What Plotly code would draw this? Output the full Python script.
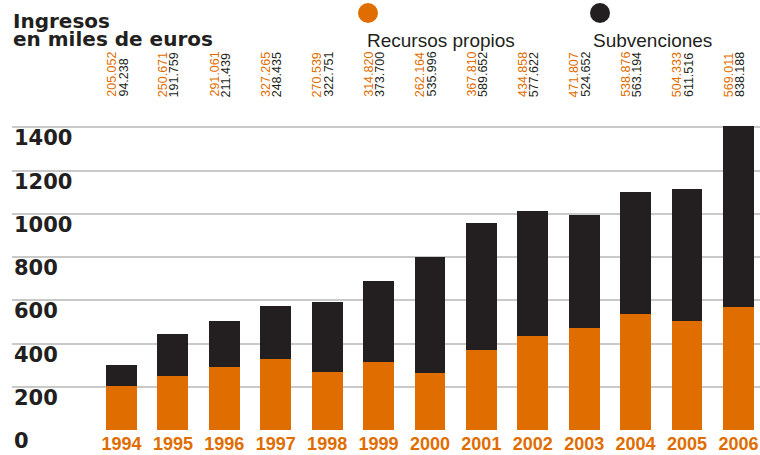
import plotly.graph_objects as go

# ---- data ----
years = ["1994", "1995", "1996", "1997", "1998", "1999", "2000",
         "2001", "2002", "2003", "2004", "2005", "2006"]
recursos_propios = [205.052, 250.671, 291.061, 327.265, 270.539, 314.820, 262.164,
                    367.810, 434.858, 471.807, 538.876, 504.333, 569.011]
subvenciones = [94.238, 191.759, 211.439, 248.435, 322.751, 373.700, 535.996,
                589.652, 577.622, 524.652, 563.194, 611.516, 838.188]
y_ticks = [0, 200, 400, 600, 800, 1000, 1200, 1400]

ORANGE = "#df6d00"
DARK = "#231f20"
GRID = "#c9c9c9"

W, H = 760, 455
ML, MR, MT, MB = 12, 0, 123, 25
PW, PH = W - ML - MR, H - MT - MB


def px(xp):
    return (xp - ML) / PW


def py(yp):
    return (H - MB - yp) / PH


idx = list(range(len(years)))

fig = go.Figure()
fig.add_trace(go.Bar(x=idx, y=recursos_propios, name="Recursos propios",
                     marker=dict(color=ORANGE, line=dict(width=0)), width=0.6,
                     hoverinfo="skip"))
fig.add_trace(go.Bar(x=idx, y=subvenciones, name="Subvenciones",
                     marker=dict(color=DARK, line=dict(width=0)), width=0.6,
                     hoverinfo="skip"))

annotations = []
# y tick labels placed under the gridlines
for t in y_ticks:
    annotations.append(dict(x=0, xref="paper", y=t, yref="y", text=str(t),
                            showarrow=False, xanchor="left", yanchor="middle",
                            yshift=-11,
                            font=dict(family="DejaVu Sans", size=21, color=DARK,
                                      weight="bold")))

# rotated value labels
label_font = "Liberation Sans, Arial, sans-serif"
for i in idx:
    annotations.append(dict(x=i - 0.18, xref="x", y=py(99), yref="paper",
                            text=f"{recursos_propios[i]:.3f}", textangle=-90,
                            showarrow=False, xanchor="center", yanchor="bottom",
                            font=dict(family=label_font, size=12.5, color=ORANGE)))
    annotations.append(dict(x=i + 0.04, xref="x", y=py(99), yref="paper",
                            text=f"{subvenciones[i]:.3f}", textangle=-90,
                            showarrow=False, xanchor="center", yanchor="bottom",
                            font=dict(family=label_font, size=12.5, color=DARK)))

# header
annotations.append(dict(x=px(11), xref="paper", y=py(21), yref="paper",
                        text="Ingresos", showarrow=False, xanchor="left",
                        yanchor="middle",
                        font=dict(family="DejaVu Sans", size=20, color=DARK,
                                  weight="bold")))
annotations.append(dict(x=px(11), xref="paper", y=py(39), yref="paper",
                        text="en miles de euros", showarrow=False, xanchor="left",
                        yanchor="middle",
                        font=dict(family="DejaVu Sans", size=20, color=DARK,
                                  weight="bold")))

# legend texts
annotations.append(dict(x=px(365), xref="paper", y=py(40), yref="paper",
                        text="Recursos propios", showarrow=False, xanchor="left",
                        yanchor="middle",
                        font=dict(family=label_font, size=19, color=DARK)))
annotations.append(dict(x=px(591), xref="paper", y=py(40), yref="paper",
                        text="Subvenciones", showarrow=False, xanchor="left",
                        yanchor="middle",
                        font=dict(family=label_font, size=19, color=DARK)))

shapes = [
    dict(type="circle", xref="paper", yref="paper",
         x0=px(358), x1=px(378), y0=py(23), y1=py(3),
         fillcolor=ORANGE, line=dict(width=0)),
    dict(type="circle", xref="paper", yref="paper",
         x0=px(590), x1=px(610), y0=py(23), y1=py(3),
         fillcolor=DARK, line=dict(width=0)),
]

fig.update_layout(
    width=W, height=H,
    margin=dict(l=ML, r=MR, t=MT, b=MB, pad=0, autoexpand=False),
    paper_bgcolor="white", plot_bgcolor="white",
    barmode="stack", bargap=0,
    showlegend=False,
    annotations=annotations,
    shapes=shapes,
    xaxis=dict(range=[-2.13, 12.42], tickvals=idx, ticktext=years,
               automargin=False, ticklabelstandoff=1,
               showgrid=False, zeroline=False, showline=False, ticks="",
               tickfont=dict(family=label_font, size=18, color=ORANGE,
                             weight="bold")),
    yaxis=dict(range=[0, 1420], tickvals=y_ticks, showticklabels=False,
               automargin=False,
               showgrid=True, gridcolor=GRID, gridwidth=1.5,
               zeroline=False, showline=False, ticks=""),
)

fig.write_html("out.html",
               config={"displayModeBar": False},
               post_script="document.body.style.margin='0';"
                           "document.body.style.overflow='hidden';")
